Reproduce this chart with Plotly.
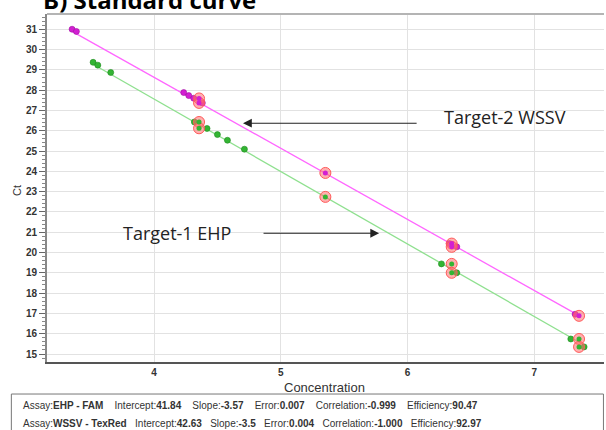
import plotly.graph_objects as go

# ---- data ----
wssv_conc = [3.353, 3.387, 4.234, 4.274, 4.313, 4.381, 6.33, 6.389, 7.323]
wssv_ct = [31.0, 30.89, 27.88, 27.73, 27.60, 27.37, 20.44, 20.28, 16.96]
wssv_hl_conc = [4.355, 4.355, 5.352, 6.349, 6.349, 7.354]
wssv_hl_ct = [27.59, 27.37, 23.92, 20.44, 20.28, 16.88]

ehp_conc = [3.519, 3.556, 3.658, 4.318, 4.418, 4.5, 4.579, 4.713, 6.268, 6.389, 7.289, 7.394]
ehp_ct = [29.37, 29.23, 28.87, 26.43, 26.11, 25.81, 25.53, 25.09, 19.44, 19.0, 15.74, 15.35]
ehp_hl_conc = [4.355, 4.355, 5.352, 6.349, 6.349, 7.354, 7.354]
ehp_hl_ct = [26.43, 26.12, 22.74, 19.44, 19.0, 15.74, 15.35]

ehp_intercept, ehp_slope = 41.84, -3.57
wssv_intercept, wssv_slope = 42.63, -3.5

x_ticks = [4, 5, 6, 7]
y_ticks = list(range(15, 32))

title_text = "B) Standard curve"
label_wssv = "Target-2 WSSV"
label_ehp = "Target-1 EHP"
SP1 = "&nbsp;" * 4
SP2 = "&nbsp;" * 3
stats_ehp = ("Assay:<b>EHP - FAM</b>" + SP1 + "Intercept:<b>41.84</b>" + SP1 + "Slope:<b>-3.57</b>" + SP1 +
             "Error:<b>0.007</b>" + SP1 + "Correlation:<b>-0.999</b>" + SP1 + "Efficiency:<b>90.47</b>")
stats_wssv = ("Assay:<b>WSSV - TexRed</b>" + SP2 + "Intercept:<b>42.63</b>" + SP2 + "Slope:<b>-3.5</b>" + SP2 +
              "Error:<b>0.004</b>" + SP2 + "Correlation:<b>-1.000</b>" + SP2 + "Efficiency:<b>92.97</b>")

GREEN = "#33b533"
GREEN_LINE = "#8fe08f"
MAG = "#d21fd2"
MAG_LINE = "#ff66ff"

fig = go.Figure()

# regression lines
wx = [min(wssv_conc + wssv_hl_conc), max(wssv_conc + wssv_hl_conc)]
ex = [min(ehp_conc + ehp_hl_conc), max(ehp_conc + ehp_hl_conc)]
fig.add_trace(go.Scatter(x=wx, y=[wssv_intercept + wssv_slope * v for v in wx], mode="lines",
                         line=dict(color=MAG_LINE, width=1.3), hoverinfo="skip"))
fig.add_trace(go.Scatter(x=ex, y=[ehp_intercept + ehp_slope * v for v in ex], mode="lines",
                         line=dict(color=GREEN_LINE, width=1.3), hoverinfo="skip"))

# regular points
fig.add_trace(go.Scatter(x=wssv_conc, y=wssv_ct, mode="markers",
                         marker=dict(size=6, color=MAG, line=dict(color="#a010a0", width=0.6))))
fig.add_trace(go.Scatter(x=ehp_conc, y=ehp_ct, mode="markers",
                         marker=dict(size=6, color=GREEN, line=dict(color="#1f8a1f", width=0.6))))

# highlighted points (rings)
for xs, ys, c in [(wssv_hl_conc, wssv_hl_ct, MAG), (ehp_hl_conc, ehp_hl_ct, GREEN)]:
    fig.add_trace(go.Scatter(x=xs, y=ys, mode="markers",
                             marker=dict(size=11, color="rgba(255,110,110,0.55)",
                                         line=dict(color="#ff5a5a", width=1))))
    fig.add_trace(go.Scatter(x=xs, y=ys, mode="markers",
                             marker=dict(size=5, color=c, line=dict(width=0))))

# arrows and labels
fig.add_annotation(x=4.702, y=26.37, ax=6.084, ay=26.37, xref="x", yref="y", axref="x", ayref="y",
                   text="", showarrow=True, arrowhead=2, arrowsize=1.6, arrowwidth=1.1, arrowcolor="#222")
fig.add_annotation(x=5.776, y=20.95, ax=4.852, ay=20.95, xref="x", yref="y", axref="x", ayref="y",
                   text="", showarrow=True, arrowhead=2, arrowsize=1.6, arrowwidth=1.1, arrowcolor="#222")
fig.add_annotation(x=6.273, y=26.66, xref="x", yref="y", text=label_wssv, showarrow=False,
                   xanchor="left", yanchor="middle", font=dict(family="Open Sans", size=18, color="#222"))
fig.add_annotation(x=3.74, y=20.95, xref="x", yref="y", text=label_ehp, showarrow=False,
                   xanchor="left", yanchor="middle", font=dict(family="Open Sans", size=18, color="#222"))

# title (clipped at top, as in the reference)
fig.add_annotation(x=-0.01, y=1.0, xref="paper", yref="paper", text="<b>" + title_text + "</b>",
                   showarrow=False, xanchor="left", yanchor="bottom", yshift=-4,
                   font=dict(family="Open Sans", size=24, color="#000"))

# axis titles
fig.add_annotation(x=0.499, y=-0.072, xref="paper", yref="paper", text="Concentration", showarrow=False,
                   xanchor="center", yanchor="middle", font=dict(family="Liberation Sans", size=13, color="#333"))
fig.add_annotation(x=-0.054, y=0.494, xref="paper", yref="paper", text="Ct", showarrow=False, textangle=-90,
                   xanchor="center", yanchor="middle", font=dict(family="Liberation Sans", size=11, color="#333"))

# stats box
fig.add_shape(type="rect", xref="paper", yref="paper", x0=-0.064, x1=0.999, y0=-0.092, y1=-0.25,
              line=dict(color="#777", width=1), fillcolor="white")
fig.add_annotation(x=-0.047, y=-0.126, xref="paper", yref="paper", text=stats_ehp, showarrow=False,
                   xanchor="left", yanchor="middle", font=dict(family="Liberation Sans", size=10, color="#333"))
fig.add_annotation(x=-0.047, y=-0.178, xref="paper", yref="paper", text=stats_wssv, showarrow=False,
                   xanchor="left", yanchor="middle", font=dict(family="Liberation Sans", size=10, color="#333"))

# top border
fig.add_shape(type="line", xref="paper", yref="paper", x0=0, x1=1, y0=1, y1=1,
              line=dict(color="#b4b4b4", width=2))

fig.update_xaxes(range=[3.155, 7.551], tickvals=x_ticks, ticktext=[str(v) for v in x_ticks],
                 showgrid=True, gridcolor="#e2e2e2", gridwidth=1, zeroline=False,
                 showline=True, linecolor="#555", linewidth=2, ticks="", ticklen=0,
                 tickfont=dict(family="Liberation Sans", size=10, color="#333", weight="bold"))
fig.update_yaxes(range=[14.606, 31.75], tickvals=y_ticks, ticktext=[str(v) for v in y_ticks],
                 showgrid=True, gridcolor="#e2e2e2", gridwidth=1, zeroline=False,
                 showline=True, linecolor="#888", linewidth=2, ticks="outside", ticklen=6,
                 tickcolor="#666", tickwidth=1,
                 minor=dict(dtick=0.2, ticks="outside", ticklen=3, tickcolor="#888", showgrid=False),
                 tickfont=dict(family="Liberation Sans", size=10, color="#333", weight="bold"))

fig.update_layout(width=606, height=430, margin=dict(l=47, r=2, t=14, b=68),
                  plot_bgcolor="white", paper_bgcolor="white", showlegend=False)

fig.write_html("out.html", config={"displayModeBar": False},
               post_script="document.body.style.margin='0';document.body.style.overflow='hidden';")
